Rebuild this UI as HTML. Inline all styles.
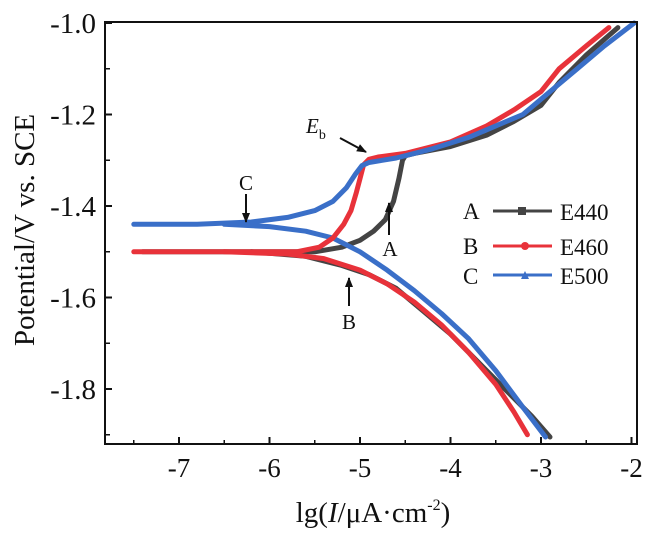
<!DOCTYPE html>
<html><head><meta charset="utf-8"><style>
body{margin:0;background:#fff}
text{font-family:"Liberation Serif","DejaVu Serif","Times New Roman",serif !important;fill:#111}
</style></head><body>
<svg id="c" width="646" height="538" style="position:absolute;left:0;top:0" xmlns="http://www.w3.org/2000/svg">
<g id="plot"></g>
<g id="axes"></g>
</svg>
<script>
const xTicks=[-7,-6,-5,-4,-3,-2];
const yTicks=[-1.0,-1.2,-1.4,-1.6,-1.8];
const aX=[-7.4,-6.5,-5.8,-5.5,-5.2,-5.0,-4.85,-4.72,-4.63,-4.57,-4.53,-4.5,-4.4,-4.0,-3.6,-3.3,-3.0,-2.8,-2.5,-2.15];
const aY=[-1.50,-1.50,-1.50,-1.50,-1.49,-1.475,-1.455,-1.43,-1.39,-1.34,-1.30,-1.29,-1.285,-1.27,-1.245,-1.215,-1.18,-1.13,-1.07,-1.01];
const aCX=[-6.2,-5.6,-5.2,-4.9,-4.6,-4.3,-4.0,-3.7,-3.4,-3.1,-2.9];
const aCY=[-1.50,-1.51,-1.53,-1.55,-1.58,-1.63,-1.68,-1.74,-1.80,-1.86,-1.905];
const bX=[-7.5,-6.5,-5.7,-5.45,-5.3,-5.18,-5.1,-5.04,-5.0,-4.96,-4.9,-4.8,-4.5,-4.0,-3.6,-3.3,-3.0,-2.8,-2.5,-2.25];
const bY=[-1.50,-1.50,-1.50,-1.49,-1.47,-1.44,-1.41,-1.37,-1.34,-1.31,-1.298,-1.293,-1.285,-1.26,-1.225,-1.19,-1.15,-1.10,-1.05,-1.01];
const bCX=[-6.5,-5.8,-5.4,-5.0,-4.7,-4.4,-4.1,-3.8,-3.5,-3.3,-3.15];
const bCY=[-1.50,-1.505,-1.515,-1.54,-1.57,-1.61,-1.66,-1.72,-1.79,-1.85,-1.90];
const cX=[-7.5,-6.8,-6.2,-5.8,-5.5,-5.3,-5.15,-5.05,-4.98,-4.9,-4.6,-4.2,-3.8,-3.5,-3.2,-2.9,-2.6,-2.3,-1.97];
const cY=[-1.44,-1.44,-1.435,-1.425,-1.41,-1.39,-1.36,-1.33,-1.312,-1.305,-1.295,-1.275,-1.25,-1.225,-1.20,-1.15,-1.10,-1.05,-1.00];
const cCX=[-6.5,-6.0,-5.6,-5.3,-5.0,-4.7,-4.4,-4.1,-3.8,-3.5,-3.2,-2.95];
const cCY=[-1.44,-1.445,-1.455,-1.47,-1.50,-1.54,-1.585,-1.635,-1.69,-1.76,-1.84,-1.905];

const X=v=>179+(v+7)*90.5;
const Y=v=>23+(-1.0-v)/0.2*91.5;
const NS="http://www.w3.org/2000/svg";
const plot=document.getElementById('plot'),axes=document.getElementById('axes');
function mk(t,at,par){const e=document.createElementNS(NS,t);for(const k in at)e.setAttribute(k,at[k]);par.appendChild(e);return e;}
function series(xs,ys,col,name){
  const d=xs.map((x,i)=>(i?'L':'M')+X(x).toFixed(1)+' '+Y(ys[i]).toFixed(1)).join(' ');
  const p=mk('path',{d:d,fill:'none',stroke:col,'stroke-width':5,'stroke-linejoin':'round','stroke-linecap':'round'},plot);
  
  
}
series(aX,aY,'#444','series-e440-anodic');
series(aCX,aCY,'#444','series-e440-cathodic');
series(cCX,cCY,'#3a6fc8','series-e500-cathodic');
series(bCX,bCY,'#e8323a','series-e460-cathodic');
series(bX,bY,'#e8323a','series-e460-anodic');
series(cX,cY,'#3a6fc8','series-e500-anodic');
const fr=mk('rect',{x:105,y:22,width:532,height:422,fill:'none',stroke:'#111','stroke-width':2},axes);


xTicks.forEach(t=>{
  mk('line',{x1:X(t),x2:X(t),y1:444,y2:437,stroke:'#111','stroke-width':2},axes);
  mk('line',{x1:X(t-0.5),x2:X(t-0.5),y1:444,y2:440,stroke:'#111','stroke-width':1.5},axes);
  const tx=mk('text',{x:X(t),y:477,'text-anchor':'middle','font-size':27},axes);tx.textContent=t;
  
  
});
yTicks.forEach(t=>{
  mk('line',{x1:105,x2:112,y1:Y(t),y2:Y(t),stroke:'#111','stroke-width':2},axes);
  mk('line',{x1:105,x2:110,y1:Y(t-0.1),y2:Y(t-0.1),stroke:'#111','stroke-width':1.5},axes);
  const tx=mk('text',{x:96,y:Y(t)+10,'text-anchor':'end','font-size':29},axes);tx.textContent=t.toFixed(1);
  
  
});
</script>
<svg width="646" height="538" style="position:absolute;left:0;top:0">
<defs><marker id="ah" markerUnits="userSpaceOnUse" markerWidth="10" markerHeight="10" refX="9" refY="4" orient="auto"><path d="M0,0 L10,4 L0,8 z" fill="#111"/></marker></defs>
<text x="34" y="230" font-size="29" text-anchor="middle" transform="rotate(-90 34 230)">Potential/V vs. SCE</text>
<text x="373" y="522" font-size="29" text-anchor="middle">lg(<tspan font-style="italic">I</tspan>/μA·cm<tspan font-size="16" dy="-12">-2</tspan><tspan dy="12">)</tspan></text>
<text x="246" y="190" font-size="21" text-anchor="middle">C</text>
<line x1="246" y1="194" x2="246" y2="222" stroke="#111" stroke-width="2" marker-end="url(#ah)"/>
<text x="306" y="133" font-size="21" font-style="italic">E<tspan font-size="14" font-style="normal" dy="6">b</tspan></text>
<line x1="340" y1="138" x2="366" y2="152" stroke="#111" stroke-width="2" marker-end="url(#ah)"/>
<line x1="389" y1="235" x2="389" y2="203" stroke="#111" stroke-width="2" marker-end="url(#ah)"/>
<text x="390" y="256" font-size="21" text-anchor="middle">A</text>
<line x1="349" y1="306" x2="349" y2="278" stroke="#111" stroke-width="2" marker-end="url(#ah)"/>
<text x="349" y="329" font-size="21" text-anchor="middle">B</text>
<g font-size="23">
<text x="463" y="219">A</text><line x1="493" x2="552" y1="211" y2="211" stroke="#444" stroke-width="3"/><rect x="518" y="207" width="8" height="8" fill="#444"/><text x="560" y="220">E440</text>
<text x="463" y="254">B</text><line x1="493" x2="552" y1="246" y2="246" stroke="#e8323a" stroke-width="3"/><circle cx="525" cy="246" r="4" fill="#e8323a"/><text x="560" y="255">E460</text>
<text x="463" y="284">C</text><line x1="493" x2="552" y1="275" y2="275" stroke="#3a6fc8" stroke-width="3"/><path d="M521,279 L525,271 L529,279 z" fill="#3a6fc8"/><text x="560" y="284">E500</text>
</g>
</svg>
</body></html>
